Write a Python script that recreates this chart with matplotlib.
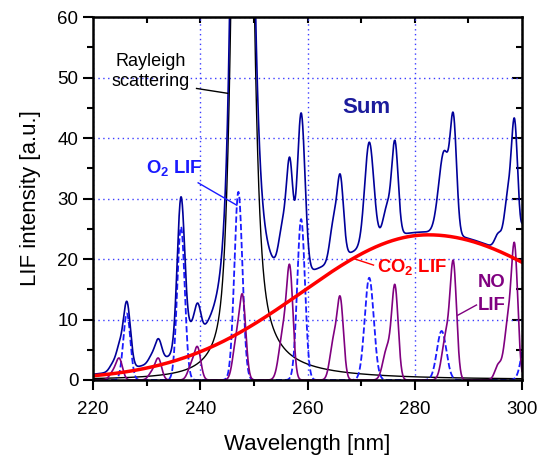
import numpy as np
import matplotlib.pyplot as plt

plt.rcParams['font.family'] = ['Liberation Sans', 'DejaVu Sans']
plt.rcParams['mathtext.fontset'] = 'custom'
plt.rcParams['mathtext.rm'] = 'Liberation Sans'
plt.rcParams['mathtext.bf'] = 'Liberation Sans:bold'

# Picos de O2 LIF (centro en nm, altura, ancho sigma)
o2_centros = [226.3, 236.4, 247.1, 258.8, 271.5, 285.0, 301.0]
o2_alturas = [11.0, 25.3, 31.1, 26.6, 16.9, 8.1, 9.0]
o2_anchos = [0.66, 0.70, 0.75, 0.72, 0.84, 0.88, 0.9]

# Picos de NO LIF (pico principal y hombro a la izquierda)
no_centros = [223.7, 224.9, 231.0, 232.2, 238.3, 239.5, 246.7, 247.9, 255.4, 256.7,
              264.8, 266.1, 274.8, 276.3, 285.8, 287.2, 295.6, 297.3, 298.6]
no_alturas = [1.2, 3.4, 1.2, 3.4, 2.2, 5.1, 6.0, 13.0, 7.5, 17.3,
              6.0, 13.0, 5.0, 15.1, 7.0, 18.5, 2.5, 8.5, 21.5]
no_anchos = [0.65, 0.6, 0.65, 0.6, 0.65, 0.6, 0.65, 0.6, 0.75, 0.6,
             0.65, 0.6, 0.75, 0.6, 0.75, 0.6, 0.65, 0.65, 0.6]

# Banda ancha de CO2 LIF (altura, centro, sigma izquierda, sigma derecha)
co2_altura = 24.0
co2_centro = 282.5
co2_sigma_izq = 23.5
co2_sigma_der = 27.0

# Dispersion Rayleigh (centro, nucleo gaussiano y alas lorentzianas)
ray_centro = 247.8
ray_nucleo = [78.0, 1.43]          # altura, sigma
ray_lorentz = [200.0, 0.95, 1.25]  # altura, gamma^2 izq, gamma^2 der
ray_ala = [1.6, 15.0]              # ala ancha del lado derecho

wl = np.linspace(220, 300, 1601)


def gauss(x, c, h, s):
    return h * np.exp(-(x - c) ** 2 / (2 * s ** 2))


o2 = sum(gauss(wl, c, h, s) for c, h, s in zip(o2_centros, o2_alturas, o2_anchos))
no = sum(gauss(wl, c, h, s) for c, h, s in zip(no_centros, no_alturas, no_anchos))

d = wl - co2_centro
co2 = co2_altura * np.exp(-d ** 2 / (2 * np.where(d < 0, co2_sigma_izq, co2_sigma_der) ** 2))

d = wl - ray_centro
g2 = np.where(d < 0, ray_lorentz[1], ray_lorentz[2])
rayleigh = (gauss(wl, ray_centro, ray_nucleo[0], ray_nucleo[1])
            + ray_lorentz[0] * g2 / (d ** 2 + g2)
            + np.where(d > 0, ray_ala[0] * ray_ala[1] ** 2 / (d ** 2 + ray_ala[1] ** 2), 0))

suma = o2 + no + co2 + rayleigh

fig = plt.figure(figsize=(5.41, 4.62), dpi=100)
ax = fig.add_axes([0.172, 0.1775, 0.793, 0.7855])

ax.plot(wl, rayleigh, color='black', lw=1.0)
ax.plot(wl, o2, color='#1a1aff', lw=1.3, ls=(0, (3.5, 1.5)))
ax.plot(wl, no, color='#800080', lw=1.2)
ax.plot(wl, suma, color='#00009a', lw=1.2)
ax.plot(wl, co2, color='#ff0000', lw=2.5)

ax.set_xlim(220, 300)
ax.set_ylim(0, 60)
ax.set_xticks([220, 240, 260, 280, 300])
ax.set_xticks([230, 250, 270, 290], minor=True)
ax.set_yticks([0, 10, 20, 30, 40, 50, 60])
ax.set_yticks([5, 15, 25, 35, 45, 55], minor=True)
ax.tick_params(which='major', direction='out', length=7, width=1.5, labelsize=13.5)
ax.tick_params(axis='x', which='major', pad=8)
ax.tick_params(which='minor', direction='out', length=4, width=1.5)
for lado in ax.spines.values():
    lado.set_linewidth(1.8)

# Ticks interiores arriba y a la derecha
arriba = ax.secondary_xaxis('top')
arriba.set_xticks([230, 240, 250, 260, 270, 280, 290])
arriba.tick_params(direction='in', length=4.5, width=1.5, labeltop=False)
derecha = ax.secondary_yaxis('right')
derecha.set_yticks([10, 20, 30, 40, 50])
derecha.set_yticks([5, 15, 25, 35, 45, 55], minor=True)
derecha.tick_params(which='major', direction='in', length=7, width=1.5, labelright=False)
derecha.tick_params(which='minor', direction='in', length=4, width=1.5)

ax.grid(True, which='major', color='#3c3cff', ls=(0, (1, 2.5)), lw=1.0)

ax.set_xlabel('Wavelength [nm]', fontsize=16, labelpad=12)
ax.set_ylabel('LIF intensity [a.u.]', fontsize=16, labelpad=12)

# Etiquetas de las curvas
ax.text(230.8, 51.0, 'Rayleigh\nscattering', fontsize=13, ha='center', va='center',
        linespacing=1.25)
ax.plot([239.3, 245.1], [48.2, 47.4], color='black', lw=1.0)

ax.text(229.9, 34.2, r'$\mathbf{O_2}$ LIF', fontsize=13.3, color='#1a1aff',
        fontweight='bold', ha='left', va='baseline')
ax.plot([239.6, 246.8], [32.6, 28.9], color='#1a1aff', lw=1.0)

ax.text(271.0, 45.0, 'Sum', fontsize=16, color='#1c1c9c', fontweight='bold',
        ha='center', va='center')

ax.text(272.9, 17.9, r'$\mathbf{CO_2}$ LIF', fontsize=13.3, color='#ff0000',
        fontweight='bold', ha='left', va='baseline')
ax.plot([268.5, 272.3], [20.1, 19.0], color='#ff0000', lw=1.0)

ax.text(291.8, 14.2, 'NO\nLIF', fontsize=13.3, color='#800080', fontweight='bold',
        ha='left', va='center', linespacing=1.5)
ax.plot([291.5, 288.0], [12.4, 10.7], color='#800080', lw=1.0)

fig.savefig('out.png', dpi=100)
